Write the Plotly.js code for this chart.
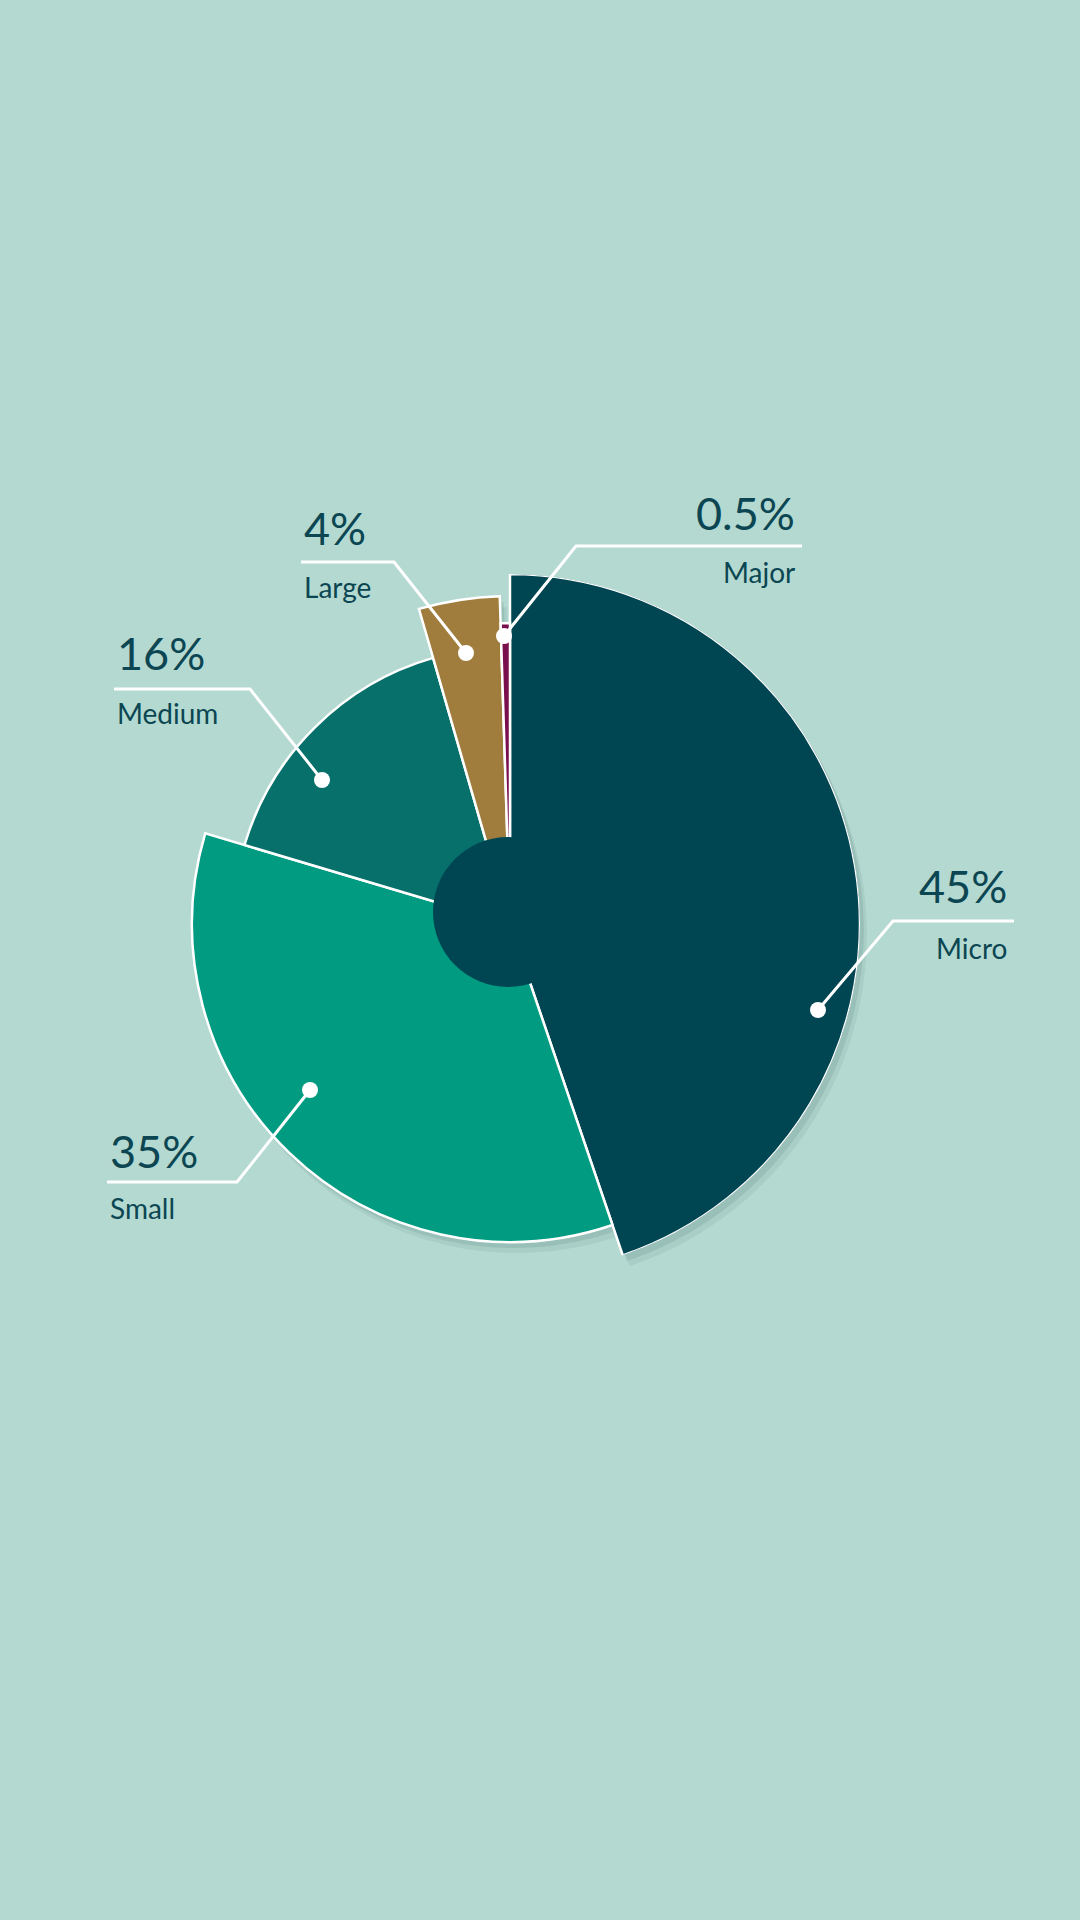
<!DOCTYPE html>
<html>
<head>
<meta charset="utf-8">
<script src="https://cdn.plot.ly/plotly-3.0.1.min.js"></script>
<style>
  html, body { margin: 0; padding: 0; background: #b3d9d1; }
  #chart { width: 1080px; height: 1920px; }
</style>
</head>
<body>
<div id="chart"></div>
<script>
// ---- data ----
const categories = ['Micro', 'Small', 'Medium', 'Large', 'Major'];
const shares = [45, 35, 16, 4, 0.5];
const shareLabels = ['45%', '35%', '16%', '4%', '0.5%'];

// ---- styles ----
const sliceColors = ['#004652', '#009b81', '#07706b', '#a07d3c', '#7a0f4d'];
const sliceRadius = [350, 318, 277, 328, 301];   // pixel radius of each wedge
const BG = '#b3d9d1';
const TEXT = '#0b4652';
const W = 1080, H = 1920;
const CX = 510, CY = 924, RMAX = 350;

const px = x => x / W;
const py = y => 1 - y / H;

// angular positions derived from the shares
const total = shares.reduce((a, b) => a + b, 0);
const widths = shares.map(s => s / total * 360);
const thetas = [];
let acc = 0;
widths.forEach(w => { thetas.push(acc + w / 2); acc += w; });

function polarDomain(dx, dy) {
  return {
    x: [px(CX - RMAX + dx), px(CX + RMAX + dx)],
    y: [py(CY + RMAX + dy), py(CY - RMAX + dy)]
  };
}
const polarCommon = {
  bgcolor: 'rgba(0,0,0,0)',
  bargap: 0,
  hole: 0,
  radialaxis: { range: [0, RMAX], visible: false, showgrid: false },
  angularaxis: { rotation: 90, direction: 'clockwise', visible: false, showgrid: false }
};

function shadowTrace(subplot, alpha) {
  return {
    type: 'barpolar',
    subplot: subplot,
    r: sliceRadius,
    theta: thetas,
    width: widths,
    base: 0,
    marker: { color: 'rgba(0,40,40,' + alpha + ')', line: { width: 0 } },
    hoverinfo: 'skip',
    showlegend: false
  };
}
const wedges = {
  type: 'barpolar',
  subplot: 'polar3',
  r: sliceRadius,
  theta: thetas,
  width: widths,
  base: 0,
  text: categories,
  marker: { color: sliceColors, line: { color: '#ffffff', width: 2.5 } },
  hoverinfo: 'text',
  showlegend: false
};

// label layout (pixel positions)
const labelPos = {
  Micro:  { x: 1009, yPct: 886,  yName: 948,  align: 'right', line: [[1014, 921], [893, 921], [818, 1010]] },
  Small:  { x: 108,  yPct: 1151, yName: 1208, align: 'left',  line: [[107, 1182], [237, 1182], [310, 1090]] },
  Medium: { x: 115,  yPct: 653,  yName: 713,  align: 'left',  line: [[114, 689], [250, 689], [322, 780]] },
  Large:  { x: 302,  yPct: 528,  yName: 587,  align: 'left',  line: [[301, 562], [394, 562], [466, 653]] },
  Major:  { x: 797,  yPct: 513,  yName: 572,  align: 'right', line: [[802, 546], [576, 546], [504, 636]] }
};

const annotations = [];
const shapes = [];

// center disc
const HOLE_X = 508, HOLE_Y = 912, HOLE_R = 75;
shapes.push({
  type: 'circle', xref: 'paper', yref: 'paper', layer: 'above',
  x0: px(HOLE_X - HOLE_R), x1: px(HOLE_X + HOLE_R),
  y0: py(HOLE_Y + HOLE_R), y1: py(HOLE_Y - HOLE_R),
  fillcolor: '#004652', line: { width: 0 }
});

categories.forEach((c, i) => {
  const p = labelPos[c];
  annotations.push({
    xref: 'paper', yref: 'paper', x: px(p.x), y: py(p.yPct),
    xanchor: p.align, yanchor: 'middle', showarrow: false,
    text: shareLabels[i],
    font: { family: 'Lato, "Open Sans", sans-serif', size: 45, color: TEXT }
  });
  annotations.push({
    xref: 'paper', yref: 'paper', x: px(p.x), y: py(p.yName),
    xanchor: p.align, yanchor: 'middle', showarrow: false,
    text: c,
    font: { family: 'Lato, "Open Sans", sans-serif', size: 28, color: TEXT }
  });
  const pts = p.line;
  shapes.push({
    type: 'path', xref: 'paper', yref: 'paper', layer: 'above',
    path: 'M' + pts.map(q => px(q[0]) + ',' + py(q[1])).join(' L'),
    line: { color: '#ffffff', width: 3 }
  });
  const d = pts[pts.length - 1], R = 8;
  shapes.push({
    type: 'circle', xref: 'paper', yref: 'paper', layer: 'above',
    x0: px(d[0] - R), x1: px(d[0] + R), y0: py(d[1] + R), y1: py(d[1] - R),
    fillcolor: '#ffffff', line: { width: 0 }
  });
});

const layout = {
  width: W, height: H,
  margin: { l: 0, r: 0, t: 0, b: 0 },
  paper_bgcolor: BG,
  plot_bgcolor: BG,
  showlegend: false,
  polar: Object.assign({}, polarCommon, { domain: polarDomain(7, 11) }),
  polar2: Object.assign({}, polarCommon, { domain: polarDomain(4, 6) }),
  polar3: Object.assign({}, polarCommon, { domain: polarDomain(0, 0) }),
  annotations: annotations,
  shapes: shapes
};

Plotly.newPlot('chart', [shadowTrace('polar', 0.06), shadowTrace('polar2', 0.09), wedges], layout,
  { displayModeBar: false, staticPlot: true });
</script>
</body>
</html>
